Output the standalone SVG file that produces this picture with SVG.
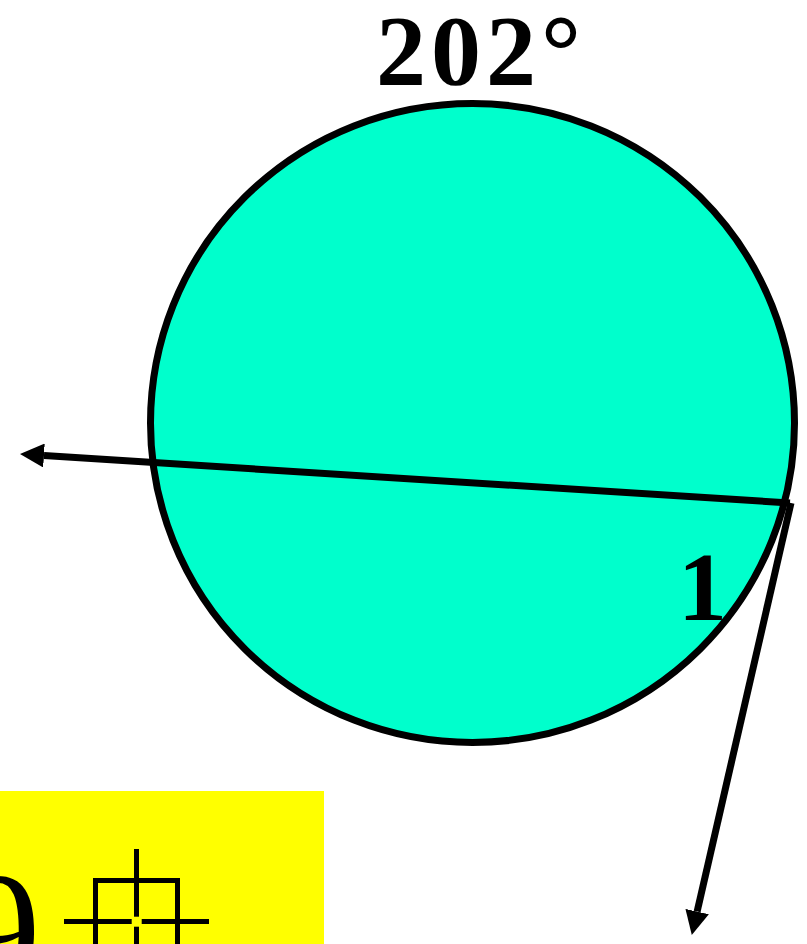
<svg xmlns="http://www.w3.org/2000/svg" width="807" height="944" viewBox="0 0 807 944">
<style>
.lbl{font-family:"Liberation Serif","Times New Roman",serif;font-weight:bold;fill:#000}
.conn{stroke:#000;stroke-width:7;fill:none}
.cross{stroke:#000;fill:none;stroke-width:5}
</style>
<defs>
<marker id="ah" viewBox="0 0 24 24" refX="0" refY="12" markerWidth="24" markerHeight="24" markerUnits="userSpaceOnUse" orient="auto">
<path d="M0,0 L24,12 L0,24 z" fill="#000"/>
</marker>
</defs>
<rect x="0" y="0" width="807" height="944" fill="#fff"/>
<g id="yellow-box">
<rect x="0" y="791" width="324" height="153" fill="#ffff00"/>
<text x="-44" y="988" font-family="Liberation Serif, serif" font-size="170" fill="#000">9</text>
<g class="cross">
<rect x="95.5" y="880.5" width="82" height="100"/>
<line x1="136.5" y1="849" x2="136.5" y2="916.7"/>
<line x1="136.5" y1="926.7" x2="136.5" y2="960"/>
<line x1="64" y1="921.5" x2="131.7" y2="921.5"/>
<line x1="141.7" y1="921.5" x2="209" y2="921.5"/>
</g>
</g>
<g id="circle">
<ellipse cx="472.5" cy="423" rx="322" ry="319.5" fill="#00ffcc" stroke="#000" stroke-width="7"/>
</g>
<g id="connectors">
<path class="conn" d="M790,503 L43.95,455.52" marker-end="url(#ah)"/>
<path class="conn" d="M791,503 L697.15,911.58" marker-end="url(#ah)"/>
</g>
<g id="labels">
<text class="lbl" x="376" y="84" font-size="100" letter-spacing="5">202°</text>
<text class="lbl" x="678" y="620" font-size="98">1</text>
</g>
</svg>
